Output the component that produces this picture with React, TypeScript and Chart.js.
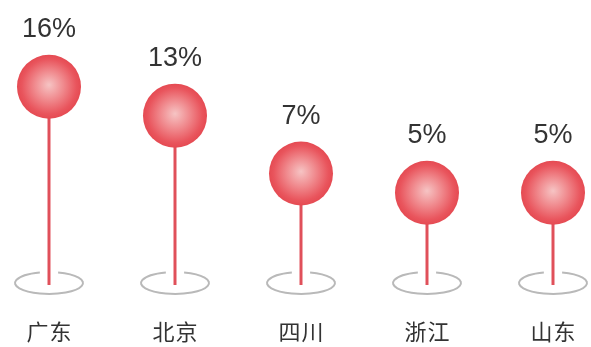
import React, { useEffect, useRef } from "react";
import { Chart, registerables } from "chart.js";

Chart.register(...registerables);

const categories = ["广东", "北京", "四川", "浙江", "山东"];
const values = [16, 13, 7, 5, 5];
const valueLabels = ["16%", "13%", "7%", "5%", "5%"];

const Y_MIN = -4.36;
const Y_MAX = 25;
const BALL_R = 32;

const lollipopPlugin = {
  id: "lollipop",
  afterDatasetsDraw(chart: any) {
    const ctx = chart.ctx;
    const xs = chart.scales.x;
    const ys = chart.scales.y;
    const baseY = chart.chartArea.bottom;
    ctx.save();
    values.forEach((v, i) => {
      const x = xs.getPixelForValue(i);
      const y = ys.getPixelForValue(v);
      // ring
      ctx.beginPath();
      ctx.ellipse(x, baseY, 34, 11, 0, -1.3, 4.44);
      ctx.strokeStyle = "#b9b9b9";
      ctx.lineWidth = 2;
      ctx.stroke();
      // stem
      ctx.beginPath();
      ctx.moveTo(x, y);
      ctx.lineTo(x, baseY + 2);
      ctx.strokeStyle = "#e0505a";
      ctx.lineWidth = 3;
      ctx.stroke();
      // ball
      const g = ctx.createRadialGradient(x, y - 2, 0, x, y, BALL_R);
      g.addColorStop(0, "#f6c4c4");
      g.addColorStop(0.45, "#f08a8e");
      g.addColorStop(0.85, "#e9555d");
      g.addColorStop(1, "#e54a52");
      ctx.beginPath();
      ctx.arc(x, y, BALL_R, 0, Math.PI * 2);
      ctx.fillStyle = g;
      ctx.fill();
      // value label
      ctx.fillStyle = "#333333";
      ctx.font = '27px "Liberation Sans", Arial, sans-serif';
      ctx.textAlign = "center";
      ctx.textBaseline = "alphabetic";
      ctx.fillText(valueLabels[i], x, y - 49.5);
      // category label (spaced characters)
      ctx.font = '22px "Noto Sans CJK SC", sans-serif';
      ctx.textBaseline = "middle";
      const chars = Array.from(categories[i]);
      chars.forEach((c, k) => {
        ctx.fillText(c, x + (k - (chars.length - 1) / 2) * 23, baseY + 49);
      });
    });
    ctx.restore();
  },
};

export default function App() {
  const ref = useRef<HTMLCanvasElement>(null);
  useEffect(() => {
    if (!ref.current) return;
    const chart = new Chart(ref.current, {
      type: "line",
      data: {
        labels: categories,
        datasets: [
          {
            data: values,
            showLine: false,
            pointRadius: 0,
            pointHoverRadius: 0,
          },
        ],
      },
      options: {
        responsive: false,
        animation: false,
        events: [],
        layout: { padding: { left: 49, right: 38, top: 0, bottom: 64 } },
        plugins: { legend: { display: false }, tooltip: { enabled: false } },
        scales: {
          x: { type: "category", offset: false, display: false },
          y: { display: false, min: Y_MIN, max: Y_MAX },
        },
      },
      plugins: [lollipopPlugin],
    });
    return () => chart.destroy();
  }, []);
  return (
    <div style={{ position: "absolute", left: 0, top: 0, width: 591, height: 347, background: "#ffffff" }}>
      <canvas ref={ref} width={591} height={347} />
    </div>
  );
}
